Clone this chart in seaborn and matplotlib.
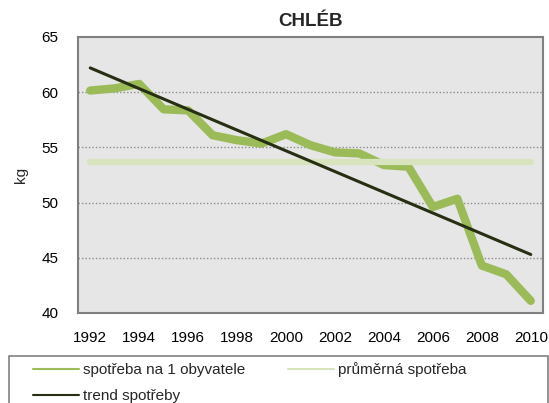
import matplotlib.pyplot as plt
import seaborn as sns
import pandas as pd
from matplotlib.lines import Line2D
from matplotlib.patches import Rectangle

years = list(range(1992, 2011))
consumption = [60.15, 60.35, 60.75, 58.45, 58.35, 56.1, 55.65, 55.35, 56.2, 55.2,
               54.55, 54.45, 53.4, 53.25, 49.6, 50.35, 44.3, 43.5, 41.1]
average = 53.7
trend_years = [1992, 2010]
trend_values = [62.2, 45.3]

labels = ['spotřeba na 1 obyvatele', 'průměrná spotřeba', 'trend spotřeby']
colors = ['#9bbb59', '#d7e4bd', '#262f12']

sns.set_theme(style='white')
plt.rcParams['font.family'] = ['Liberation Sans', 'DejaVu Sans']

df = pd.DataFrame({'rok': years, 'kg': consumption, 'prumer': [average] * len(years)})
trend = pd.DataFrame({'rok': trend_years, 'kg': trend_values})

fig = plt.figure(figsize=(5.49, 4.03), dpi=100)
W, H = 549, 403
ax = fig.add_axes([78 / W, 1 - 313 / H, (543 - 78) / W, (313 - 37) / H])
ax.set_facecolor('#e6e6e6')

sns.lineplot(data=df, x='rok', y='kg', ax=ax, color=colors[0], linewidth=6,
             solid_capstyle='round', solid_joinstyle='round')
sns.lineplot(data=df, x='rok', y='prumer', ax=ax, color=colors[1], linewidth=4.5,
             solid_capstyle='round')
sns.lineplot(data=trend, x='rok', y='kg', ax=ax, color=colors[2], linewidth=2.2,
             solid_capstyle='round')

ax.set_xlim(1991.5, 2010.5)
ax.set_ylim(40, 65)
ax.set_xticks(years[::2])
ax.set_xticks([y - 0.5 for y in years] + [2010.5], minor=True)
ax.set_yticks(range(40, 66, 5))
ax.tick_params(axis='x', which='major', length=0, pad=13, labelsize=11, colors='black')
ax.tick_params(axis='x', which='minor', length=3, width=1, color='#808080', direction='out')
ax.tick_params(axis='y', length=3.6, width=1, color='#808080', direction='out', pad=10.5,
               labelsize=11, labelcolor='black')
for y in [45, 50, 55, 60]:
    ax.axhline(y, color='#8c8c8c', linestyle=(0, (1, 1.5)), linewidth=1, zorder=0.5)
for s in ax.spines.values():
    s.set_color('#808080')
    s.set_linewidth(1.5)
ax.set_xlabel('')
ax.set_ylabel('kg', fontsize=11, labelpad=10)
ax.set_title('CHLÉB', fontsize=13.5, fontweight='bold', pad=8)

fig.patches.append(Rectangle((9 / W, -0.1), (548 - 9) / W, 0.1 + 1 - 356 / H,
                             transform=fig.transFigure, fill=False,
                             edgecolor='#808080', linewidth=1.2))
order = [0, 2, 1]
handles = [Line2D([], [], color=colors[i], linewidth=1.5) for i in order]
fig.legend(handles, [labels[i] for i in order], loc='upper left',
           bbox_to_anchor=(33 / W, 1 - 362 / H),
           ncol=2, frameon=False, fontsize=11, handlelength=3.0, handletextpad=0.3,
           borderpad=0, borderaxespad=0, columnspacing=2.75, labelspacing=0.8)

fig.savefig('out.png', dpi=100)
